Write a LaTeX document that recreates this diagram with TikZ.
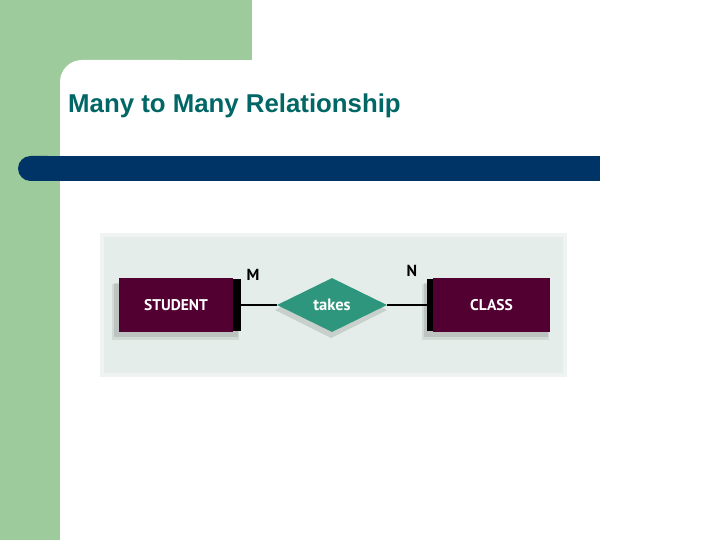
\documentclass[tikz,border=0pt]{standalone}
\usepackage{fontspec}
\setmainfont{Liberation Sans}
\newfontfamily\lblfont{PT Sans}
\usetikzlibrary{shapes.geometric}
\definecolor{slidegreen}{RGB}{158,203,156}
\definecolor{titleteal}{RGB}{0,102,102}
\definecolor{barblue}{RGB}{0,51,102}
\definecolor{panelbg}{RGB}{228,237,233}
\definecolor{entmaroon}{RGB}{82,0,50}
\definecolor{relteal}{RGB}{46,150,125}
\tikzset{
  entity/.style={fill=entmaroon, minimum width=115pt, minimum height=54pt, inner sep=0pt,
    text=white, font=\lblfont\bfseries\fontsize{15.5}{18}\selectfont},
  relation/.style={diamond, aspect=2.04, fill=relteal, minimum width=110pt, minimum height=54pt,
    inner sep=0pt, text=white, font=\lblfont\bfseries\fontsize{16.5}{18}\selectfont},
  card/.style={font=\lblfont\bfseries\fontsize{16}{18}\selectfont, text=black, inner sep=0pt},
  conn/.style={line width=1.8pt, black}
}
\begin{document}
\begin{tikzpicture}[x=1pt,y=-1pt]
\useasboundingbox (0,0) rectangle (720,540);
\fill[white] (0,0) rectangle (720,540);
% green frame
\fill[slidegreen] (0,0) rectangle (252,100);
\fill[slidegreen] (0,0) rectangle (60,540);
\fill[white, rounded corners=22pt] (60,60) rectangle (200,200);
\fill[white] (100,60) rectangle (720,540);
\fill[white] (60,100) rectangle (720,540);
% title
\node[anchor=base west, text=titleteal, font=\bfseries\fontsize{25.8}{30}\selectfont, inner sep=0pt] (title) at (68,113) {Many to Many Relationship};
% blue bar
\fill[barblue, rounded corners=12.5pt] (18,156) rectangle (60,181);
\fill[barblue] (40,156) rectangle (600,181);
% panel
\fill[panelbg!60!white] (100,233) rectangle (567,377);
\fill[panelbg] (104,237) rectangle (563,373);
% shadows
\fill[black, opacity=0.08] (112,284) rectangle (239,340);
\fill[black, opacity=0.10] (114,283) rectangle (238,337);
\fill[black, opacity=0.08] (422,284) rectangle (549,340);
\fill[black, opacity=0.10] (424,283) rectangle (548,337);
\fill[black, opacity=0.12] (275,310) -- (331,283) -- (387,310) -- (331,338) -- cycle;
% entities
\fill[black] (232,279) rectangle (241,331);
\fill[black] (427,279) rectangle (436,331);
\node[entity, minimum width=114pt] (student) at (176,305) {STUDENT};
\node[entity, minimum width=117pt] (class) at (491.5,305) {CLASS};
\node[relation] (takes) at (332,305) {takes};
% connectors
\coordinate (sEdge) at (241,305);
\coordinate (cEdge) at (427,305);
\draw[conn] (sEdge) -- (takes.west);
\draw[conn] (takes.east) -- (cEdge);
% cardinalities
\node[card] (m) at (253,275) {M};
\node[card] (n) at (412,271) {N};
\end{tikzpicture}
\end{document}
